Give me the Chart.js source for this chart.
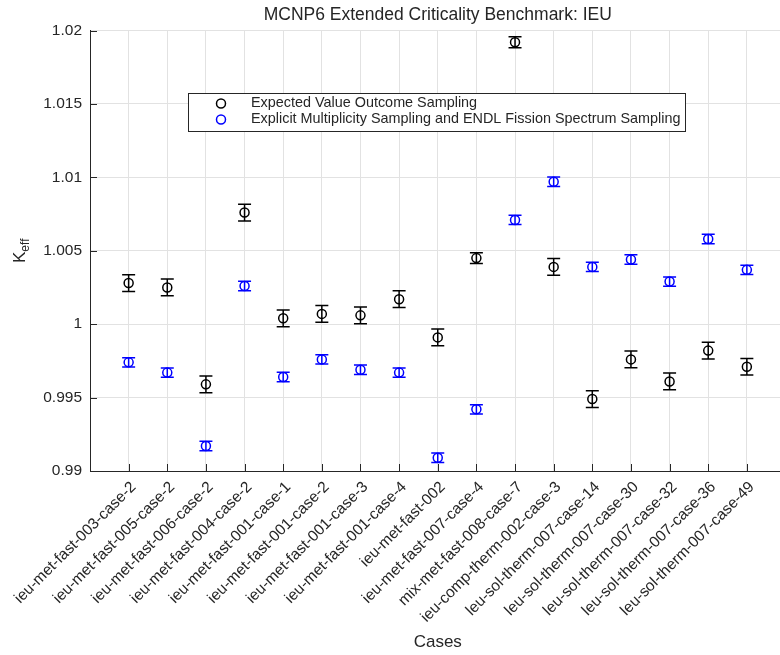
<!DOCTYPE html>
<html>
<head>
<meta charset="utf-8">
<script src="https://cdn.jsdelivr.net/npm/chart.js@4/dist/chart.umd.min.js"></script>
<style>
  html, body { margin: 0; padding: 0; background: #fff; overflow: hidden; }
  #wrap { width: 780px; height: 655px; overflow: hidden; }
</style>
</head>
<body>
<div id="wrap"><canvas id="c" width="800" height="655"></canvas></div>
<script>
// Benchmark cases along the x axis
const cases = [
  'ieu-met-fast-003-case-2', 'ieu-met-fast-005-case-2', 'ieu-met-fast-006-case-2',
  'ieu-met-fast-004-case-2', 'ieu-met-fast-001-case-1', 'ieu-met-fast-001-case-2',
  'ieu-met-fast-001-case-3', 'ieu-met-fast-001-case-4', 'ieu-met-fast-002',
  'ieu-met-fast-007-case-4', 'mix-met-fast-008-case-7', 'ieu-comp-therm-002-case-3',
  'leu-sol-therm-007-case-14', 'leu-sol-therm-007-case-30', 'leu-sol-therm-007-case-32',
  'leu-sol-therm-007-case-36', 'leu-sol-therm-007-case-49'
];

// k-eff and 1-sigma uncertainty, expected value outcome sampling
const expectedKeff = [1.0028, 1.0025, 0.9959, 1.0076, 1.0004, 1.0007, 1.0006, 1.0017, 0.9991,
                      1.0045, 1.0192, 1.0039, 0.9949, 0.9976, 0.9961, 0.9982, 0.9971];
const expectedErr  = [0.00057, 0.00057, 0.00057, 0.00057, 0.00057, 0.00057, 0.00057, 0.00057, 0.00057,
                      0.00037, 0.00037, 0.00057, 0.00057, 0.00057, 0.00057, 0.00057, 0.00057];

// k-eff and 1-sigma uncertainty, explicit multiplicity + ENDL fission spectrum
const explicitKeff = [0.9974, 0.9967, 0.9917, 1.0026, 0.9964, 0.9976, 0.9969, 0.9967, 0.9909,
                      0.9942, 1.0071, 1.0097, 1.0039, 1.0044, 1.0029, 1.0058, 1.0037];
const explicitErr  = [0.00032, 0.00032, 0.00032, 0.00032, 0.00032, 0.00032, 0.00032, 0.00032, 0.00032,
                      0.00032, 0.00032, 0.00032, 0.00032, 0.00032, 0.00032, 0.00032, 0.00032];

// y-axis tick values
const keffTicks = [0.99, 0.995, 1, 1.005, 1.01, 1.015, 1.02];

const seriesNames = [
  'Expected Value Outcome Sampling',
  'Explicit Multiplicity Sampling and ENDL Fission Spectrum Sampling'
];

const FONT = '"Liberation Sans", Arial, Helvetica, sans-serif';
const INK = '#262626';

const toPoints = vals => vals.map((v, i) => ({ x: i + 1, y: v }));

// vertical error bars with caps, drawn underneath the markers
const errorBars = {
  id: 'errorBars',
  beforeDatasetsDraw(chart) {
    const { ctx, scales: { x, y } } = chart;
    ctx.save();
    ctx.lineWidth = 1.5;
    chart.data.datasets.forEach(ds => {
      ctx.strokeStyle = ds.borderColor;
      ds.data.forEach((p, i) => {
        const e = ds.errors[i];
        const px = x.getPixelForValue(p.x);
        const yTop = y.getPixelForValue(p.y + e);
        const yBot = y.getPixelForValue(p.y - e);
        const cap = 6.5;
        ctx.beginPath();
        ctx.moveTo(px, yBot); ctx.lineTo(px, yTop);
        ctx.moveTo(px - cap, yTop); ctx.lineTo(px + cap, yTop);
        ctx.moveTo(px - cap, yBot); ctx.lineTo(px + cap, yBot);
        ctx.stroke();
      });
    });
    ctx.restore();
  }
};

// inward tick marks, y-axis title with subscript, boxed legend
const decorations = {
  id: 'decorations',
  afterDraw(chart) {
    const { ctx, chartArea: a, scales: { x, y } } = chart;
    ctx.save();

    // tick marks pointing into the plot
    ctx.strokeStyle = INK;
    ctx.lineWidth = 1;
    const len = 7;
    ctx.beginPath();
    x.ticks.forEach(t => {
      const px = Math.round(x.getPixelForValue(t.value)) + 0.5;
      ctx.moveTo(px, a.bottom); ctx.lineTo(px, a.bottom - len);
    });
    y.ticks.forEach(t => {
      const py = Math.round(y.getPixelForValue(t.value)) + 0.5;
      ctx.moveTo(a.left, py); ctx.lineTo(a.left + len, py);
    });
    ctx.stroke();

    // y-axis title: K with subscript "eff"
    ctx.fillStyle = INK;
    ctx.textBaseline = 'middle';
    ctx.textAlign = 'left';
    const mainFont = '17px ' + FONT, subFont = '12px ' + FONT;
    ctx.font = mainFont; const wK = ctx.measureText('K').width;
    ctx.font = subFont; const wS = ctx.measureText('eff').width;
    ctx.translate(20, (a.top + a.bottom) / 2);
    ctx.rotate(-Math.PI / 2);
    const start = -(wK + wS) / 2;
    ctx.font = mainFont; ctx.fillText('K', start, 0);
    ctx.font = subFont; ctx.fillText('eff', start + wK, 6);
    ctx.setTransform(1, 0, 0, 1, 0, 0);

    // legend box
    const lx = 188.5, ly = 93.5, lw = 497, lh = 38;
    ctx.fillStyle = '#fff';
    ctx.fillRect(lx, ly, lw, lh);
    ctx.strokeStyle = INK;
    ctx.lineWidth = 1;
    ctx.strokeRect(lx, ly, lw, lh);
    ctx.font = '14.4px ' + FONT;
    ctx.textBaseline = 'middle';
    ctx.textAlign = 'left';
    chart.data.datasets.forEach((ds, i) => {
      const rowY = 103.5 + i * 16;
      ctx.beginPath();
      ctx.strokeStyle = ds.borderColor;
      ctx.lineWidth = 1.5;
      ctx.arc(221, rowY, 4.5, 0, Math.PI * 2);
      ctx.stroke();
      ctx.fillStyle = INK;
      ctx.fillText(ds.label, 251, rowY);
    });
    ctx.restore();
  }
};

new Chart(document.getElementById('c'), {
  type: 'scatter',
  data: {
    datasets: [
      {
        label: seriesNames[0],
        data: toPoints(expectedKeff),
        errors: expectedErr,
        borderColor: '#000000',
        backgroundColor: 'rgba(0,0,0,0)',
        pointRadius: 4.5,
        pointBorderWidth: 1.5,
        pointStyle: 'circle'
      },
      {
        label: seriesNames[1],
        data: toPoints(explicitKeff),
        errors: explicitErr,
        borderColor: '#0000ff',
        backgroundColor: 'rgba(0,0,0,0)',
        pointRadius: 4.5,
        pointBorderWidth: 1.5,
        pointStyle: 'circle'
      }
    ]
  },
  options: {
    responsive: false,
    animation: false,
    events: [],
    layout: { padding: { left: 0, right: 14.5, top: 0, bottom: 0 } },
    plugins: {
      legend: { display: false },
      tooltip: { enabled: false },
      title: {
        display: true,
        fullSize: false,
        text: 'MCNP6 Extended Criticality Benchmark: IEU',
        color: INK,
        font: { family: FONT, size: 17.5, weight: 'normal' },
        padding: { top: 5, bottom: 4.5 }
      }
    },
    scales: {
      x: {
        type: 'linear',
        min: 0,
        max: 18,
        afterBuildTicks: s => { s.ticks = cases.map((_, i) => ({ value: i + 1 })); },
        afterFit: s => { s.height = 184; },
        ticks: {
          autoSkip: false,
          minRotation: 45,
          maxRotation: 45,
          padding: 7,
          labelOffset: 5,
          color: INK,
          font: { family: FONT, size: 15.5 },
          callback: v => cases[v - 1] ?? ''
        },
        grid: { color: '#e2e2e2', lineWidth: 1, drawTicks: false },
        border: { display: true, color: INK, width: 1 },
        title: {
          display: true,
          text: 'Cases',
          color: INK,
          font: { family: FONT, size: 17 },
          padding: { top: 0, bottom: 2 }
        }
      },
      y: {
        min: 0.99,
        max: 1.02,
        afterBuildTicks: s => { s.ticks = keffTicks.map(v => ({ value: v })); },
        afterFit: s => { s.width = 90; },
        ticks: {
          padding: 8,
          color: INK,
          font: { family: FONT, size: 15.5 },
          callback: v => String(+v.toFixed(3))
        },
        grid: { color: '#e2e2e2', lineWidth: 1, drawTicks: false },
        border: { display: true, color: INK, width: 1 }
      }
    }
  },
  plugins: [errorBars, decorations]
});
</script>
</body>
</html>
